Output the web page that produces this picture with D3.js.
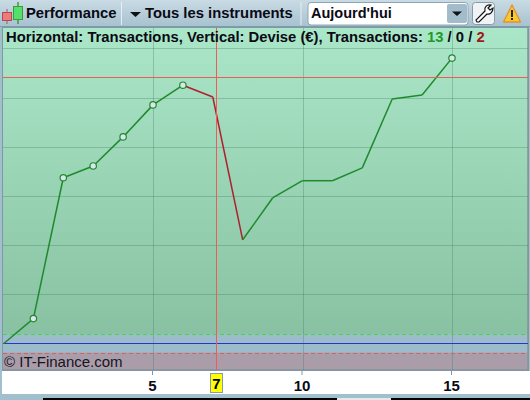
<!DOCTYPE html>
<html><head><meta charset="utf-8">
<style>html,body{margin:0;padding:0;background:#a3bfcd;overflow:hidden}svg{display:block}
text{font-family:"Liberation Sans",Arial,sans-serif}</style>
<script src="https://cdn.jsdelivr.net/npm/d3@7"></script></head><body>
<svg id="c" width="530" height="400"></svg>
<script>
const transactions=[0,1,2,3,4,5,6,7,8,9,10,11,12,13,14,15];
const gains=[0,51,337,361,420,485,525,501,211,296,331,331,357,497,505,580];
const markers=[1,2,3,4,5,6,15];
const xTicks=[5,10,15];
const gridValues=[100,200,300,400,500,600];
const cursorX=7.1, cursorLabel="7", cursorY=541;
const upperBand=20, lowerBand=-18;

const svg=d3.select("#c");
const L=3,R=528,T=28,B=370;
const x=d3.scaleLinear().domain([0,15]).range([3.5,452]);
const y=d3.scaleLinear().domain([0,500]).range([343.7,97.5]);
const defs=svg.append("defs");
function grad(id,stops){const g=defs.append("linearGradient").attr("id",id).attr("x1",0).attr("y1",0).attr("x2",0).attr("y2",1);
 stops.forEach(s=>g.append("stop").attr("offset",s[0]).attr("stop-color",s[1]));}
grad("tb",[[0,"#c9dbe4"],[1,"#a6c1cf"]]);
grad("pl",[[0,"#aae6c8"],[1,"#88c2a2"]]);
const pat=defs.append("pattern").attr("id","dots").attr("width",9).attr("height",9).attr("patternUnits","userSpaceOnUse");
pat.append("rect").attr("width",9).attr("height",9).attr("fill","#ab9ca9");
pat.append("circle").attr("cx",4).attr("cy",4).attr("r",1.6).attr("fill","#a5a0ab");

// toolbar
svg.append("rect").attr("width",530).attr("height",27).attr("fill","url(#tb)");
svg.append("rect").attr("y",26).attr("width",530).attr("height",1.5).attr("fill","#7f9cab");
svg.append("rect").attr("y",27).attr("width",530).attr("height",373).attr("fill","#a2bfcd");

// candle icon
svg.append("line").attr("x1",7).attr("x2",7).attr("y1",9).attr("y2",24).attr("stroke","#a05a5a");
svg.append("rect").attr("x",2.5).attr("y",12.5).attr("width",9).attr("height",8).attr("fill","#f07a7a").attr("stroke","#a85050");
svg.append("line").attr("x1",18).attr("x2",18).attr("y1",2).attr("y2",24).attr("stroke","#3f9a3f").attr("stroke-width",1.5);
svg.append("rect").attr("x",13.5).attr("y",6.5).attr("width",9).attr("height",13).attr("fill","#55e06a").attr("stroke","#3f9a3f");

const tbt=(s,xx,fs)=>svg.append("text").attr("x",xx).attr("y",18).attr("font-size",fs).attr("font-weight",700).attr("fill","#0a0a14").text(s);
tbt("Performance",26,14.8);
svg.append("rect").attr("x",121).attr("y",2).attr("width",1).attr("height",23).attr("fill","#e6eef2");
svg.append("path").attr("d","M130 12h11l-5.5 5z").attr("fill","#111");
tbt("Tous les instruments",145,14.8);
svg.append("rect").attr("x",300.5).attr("y",2).attr("width",1).attr("height",23).attr("fill","#e6eef2");

// dropdown
svg.append("rect").attr("x",308).attr("y",2.5).attr("width",160).attr("height",22.5).attr("rx",3).attr("fill","#fff").attr("stroke","#8ea6b3");
svg.append("rect").attr("x",447).attr("y",4).attr("width",20).attr("height",19).attr("rx",2).attr("fill","#a3bccb");
svg.append("path").attr("d","M452 11.5h10l-5 4.5z").attr("fill","#111");
tbt("Aujourd'hui",311,14.5);

// wrench button
svg.append("rect").attr("x",472.5).attr("y",2.5).attr("width",22).attr("height",22).attr("rx",3).attr("fill","#f0f3f5").attr("stroke","#8a9aa4");
svg.append("path").attr("d","M477 22 L476 20 L485 11 C484 7 487 4 491 5 L488 8 L490 10 L493 8 C493 12 490 15 487 14 L479 22 Z").attr("fill","#fff").attr("stroke","#111").attr("stroke-width",1.2);

// warning
svg.append("path").attr("d","M512 5 L520.5 22 H503.5 Z").attr("fill","#fbc92e").attr("stroke","#e2952a").attr("stroke-width",1.4).attr("stroke-linejoin","round");
svg.append("rect").attr("x",511).attr("y",10).attr("width",2).attr("height",7).attr("fill","#222");
svg.append("rect").attr("x",511).attr("y",18).attr("width",2).attr("height",2).attr("fill","#222");

// plot
svg.append("rect").attr("x",L).attr("y",T).attr("width",R-L).attr("height",y(upperBand)-T).attr("fill","url(#pl)");
svg.append("rect").attr("x",L).attr("y",y(upperBand)).attr("width",R-L).attr("height",y(lowerBand)-y(upperBand)).attr("fill","#9cbccb");
svg.append("rect").attr("x",L).attr("y",y(lowerBand)).attr("width",R-L).attr("height",B-y(lowerBand)).attr("fill","url(#dots)");
svg.append("rect").attr("x",L-0.5).attr("y",T-0.5).attr("width",R-L+1).attr("height",B-T+1).attr("fill","none").attr("stroke","#7f98a5");
svg.append("path").attr("d",`M${R} ${T}V${B}H${L}`).attr("fill","none").attr("stroke","#84949f").attr("stroke-width",1.5);

// grid
svg.append("g").selectAll("line").data(gridValues).join("line")
 .attr("x1",L).attr("x2",R).attr("y1",d=>Math.round(y(d))+.5).attr("y2",d=>Math.round(y(d))+.5)
 .attr("stroke","#3f6f5c").attr("stroke-opacity",.3);
svg.append("g").selectAll("line").data(xTicks).join("line")
 .attr("x1",d=>Math.round(x(d))+.5).attr("x2",d=>Math.round(x(d))+.5).attr("y1",T).attr("y2",B)
 .attr("stroke","#3f6f5c").attr("stroke-opacity",.3);

// reference lines
svg.append("line").attr("x1",L).attr("x2",R).attr("y1",Math.round(y(upperBand))+.5).attr("y2",Math.round(y(upperBand))+.5)
 .attr("stroke","#44d93c").attr("stroke-dasharray","4 3");
svg.append("line").attr("x1",L).attr("x2",R).attr("y1",Math.round(y(lowerBand))+.5).attr("y2",Math.round(y(lowerBand))+.5)
 .attr("stroke","#d8605f").attr("stroke-dasharray","4 3");
svg.append("line").attr("x1",L).attr("x2",R).attr("y1",343.5).attr("y2",343.5)
 .attr("stroke","#2238c8").attr("stroke-width",1);

// bottom axis strip
svg.append("rect").attr("x",2).attr("y",371).attr("width",528).attr("height",23).attr("fill","#fff");
svg.append("rect").attr("x",43).attr("y",398).attr("width",487).attr("height",2).attr("fill","#000");
svg.append("rect").attr("x",337).attr("y",398).attr("width",54).attr("height",2).attr("fill","#e4e8e6");

const axis=d3.axisBottom(x).tickValues(xTicks).tickSize(4).tickPadding(5).tickFormat(d3.format("d"));
const ag=svg.append("g").attr("transform","translate(-1,371)").call(axis);
ag.select(".domain").remove();
ag.selectAll(".tick line").attr("stroke","#7f98a5");
ag.selectAll("text").attr("font-size",15).attr("font-weight",700).attr("fill","#0a0a14").attr("font-family",'"Liberation Sans",Arial,sans-serif');

// trade curve, one segment per colour
const seg=d3.range(transactions.length-1).map(i=>[i,i+1]);
svg.append("g").selectAll("line").data(seg).join("line")
 .attr("x1",d=>x(transactions[d[0]])).attr("y1",d=>y(gains[d[0]]))
 .attr("x2",d=>x(transactions[d[1]])).attr("y2",d=>y(gains[d[1]]))
 .attr("stroke",d=>gains[d[1]]<gains[d[0]]?"#b0202c":"#1f8a2c").attr("stroke-width",1.5);

// cursor
svg.append("line").attr("x1",L).attr("x2",R).attr("y1",Math.round(y(cursorY))+.5).attr("y2",Math.round(y(cursorY))+.5).attr("stroke","#f25a5a");
svg.append("line").attr("x1",Math.round(x(cursorX))+.5).attr("x2",Math.round(x(cursorX))+.5).attr("y1",T).attr("y2",B).attr("stroke","#f25a5a");

svg.append("g").selectAll("circle").data(markers).join("circle")
 .attr("cx",d=>x(d)).attr("cy",d=>y(gains[d])).attr("r",3.2)
 .attr("fill","#d8e6ee").attr("stroke","#1f8a2c").attr("stroke-width",1.2);

// cursor label
svg.append("rect").attr("x",210.5).attr("y",373.5).attr("width",12).attr("height",19).attr("fill","#ffff00").attr("stroke","#8a9aa4");
svg.append("text").attr("x",216.5).attr("y",389).attr("text-anchor","middle").attr("font-size",15).attr("font-weight",700).attr("fill","#000").text(cursorLabel);

// header
const h=svg.append("text").attr("x",6).attr("y",42).attr("font-size",14.8).attr("font-weight",700).attr("fill","#0a0a14");
h.append("tspan").text("Horizontal: Transactions, Vertical: Devise (€), Transactions: ");
h.append("tspan").attr("fill","#1f9a2c").text("13");
h.append("tspan").text(" / 0 / ");
h.append("tspan").attr("fill","#a01818").text("2");

// watermark
svg.append("text").attr("x",4).attr("y",367).attr("font-size",15).attr("fill","#15151f").text("© IT-Finance.com");
</script></body></html>
